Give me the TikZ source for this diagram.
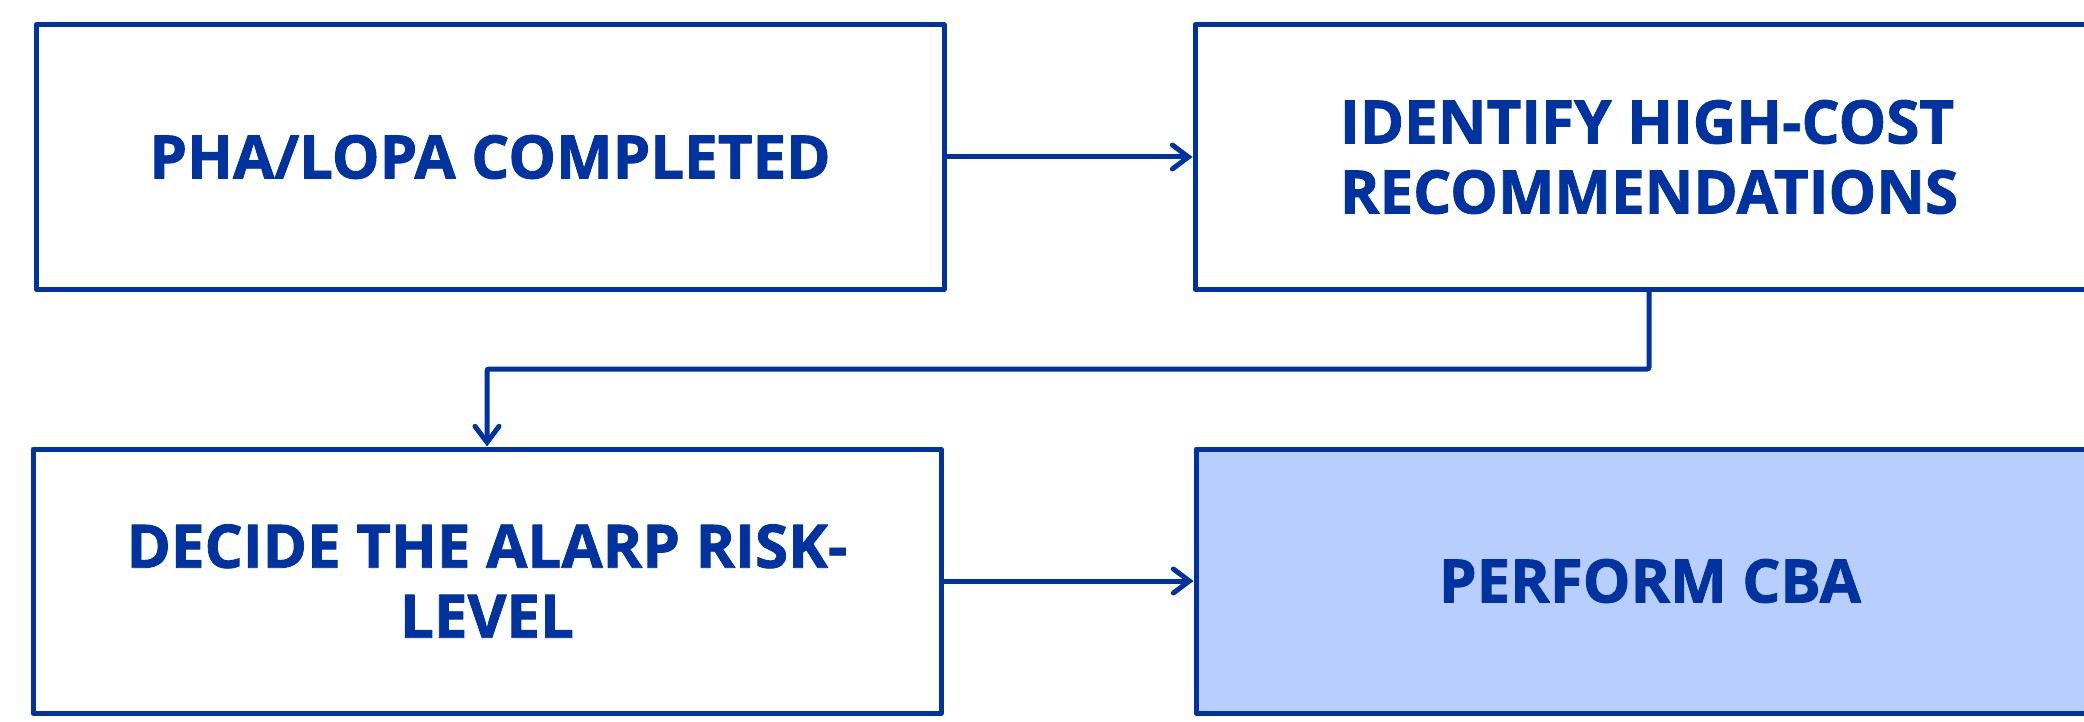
\documentclass[tikz,border=0pt]{standalone}
\usepackage{fontspec}
\setmainfont{Open Sans}[BoldFeatures={FakeBold=1.4}]
\usetikzlibrary{arrows.meta}
\definecolor{dblue}{HTML}{0033A0}
\definecolor{lblue}{HTML}{B8CEFE}
\begin{document}
\begin{tikzpicture}[x=0.5pt,y=-0.5pt,
  box/.style={draw=dblue, line width=2.5pt, line join=round, minimum width=454pt, minimum height=132pt, inner sep=0pt, text=dblue, font=\fontsize{30}{35}\selectfont\bfseries},
  conn/.style={draw=dblue, line width=2.5pt, -{Straight Barb[length=8pt,width=12pt,line cap=round,line width=2.5pt]}}]
\useasboundingbox (0,0) rectangle (2084,722);
\node[box] (b1) at (490,157) {PHA/LOPA COMPLETED};
\node[box] (b2) at (1649,157) {};
\node[text=dblue, font=\fontsize{30}{35}\selectfont\bfseries, align=left] (t2) at (1649,157) {IDENTIFY HIGH-COST\\RECOMMENDATIONS};
\node[box, align=center] (b3) at (487,581) {DECIDE THE ALARP RISK-\\LEVEL};
\node[box, fill=lblue] (b4) at (1650,581) {PERFORM CBA};
\coordinate (m) at (b2.south |- 0,369);
\draw[conn] (b1.east) -- (b2.west);
\draw[conn, rounded corners=1pt] (b2.south) -- (m) -| (b3.north);
\draw[conn] (b3.east) -- (b4.west);
\end{tikzpicture}
\end{document}
